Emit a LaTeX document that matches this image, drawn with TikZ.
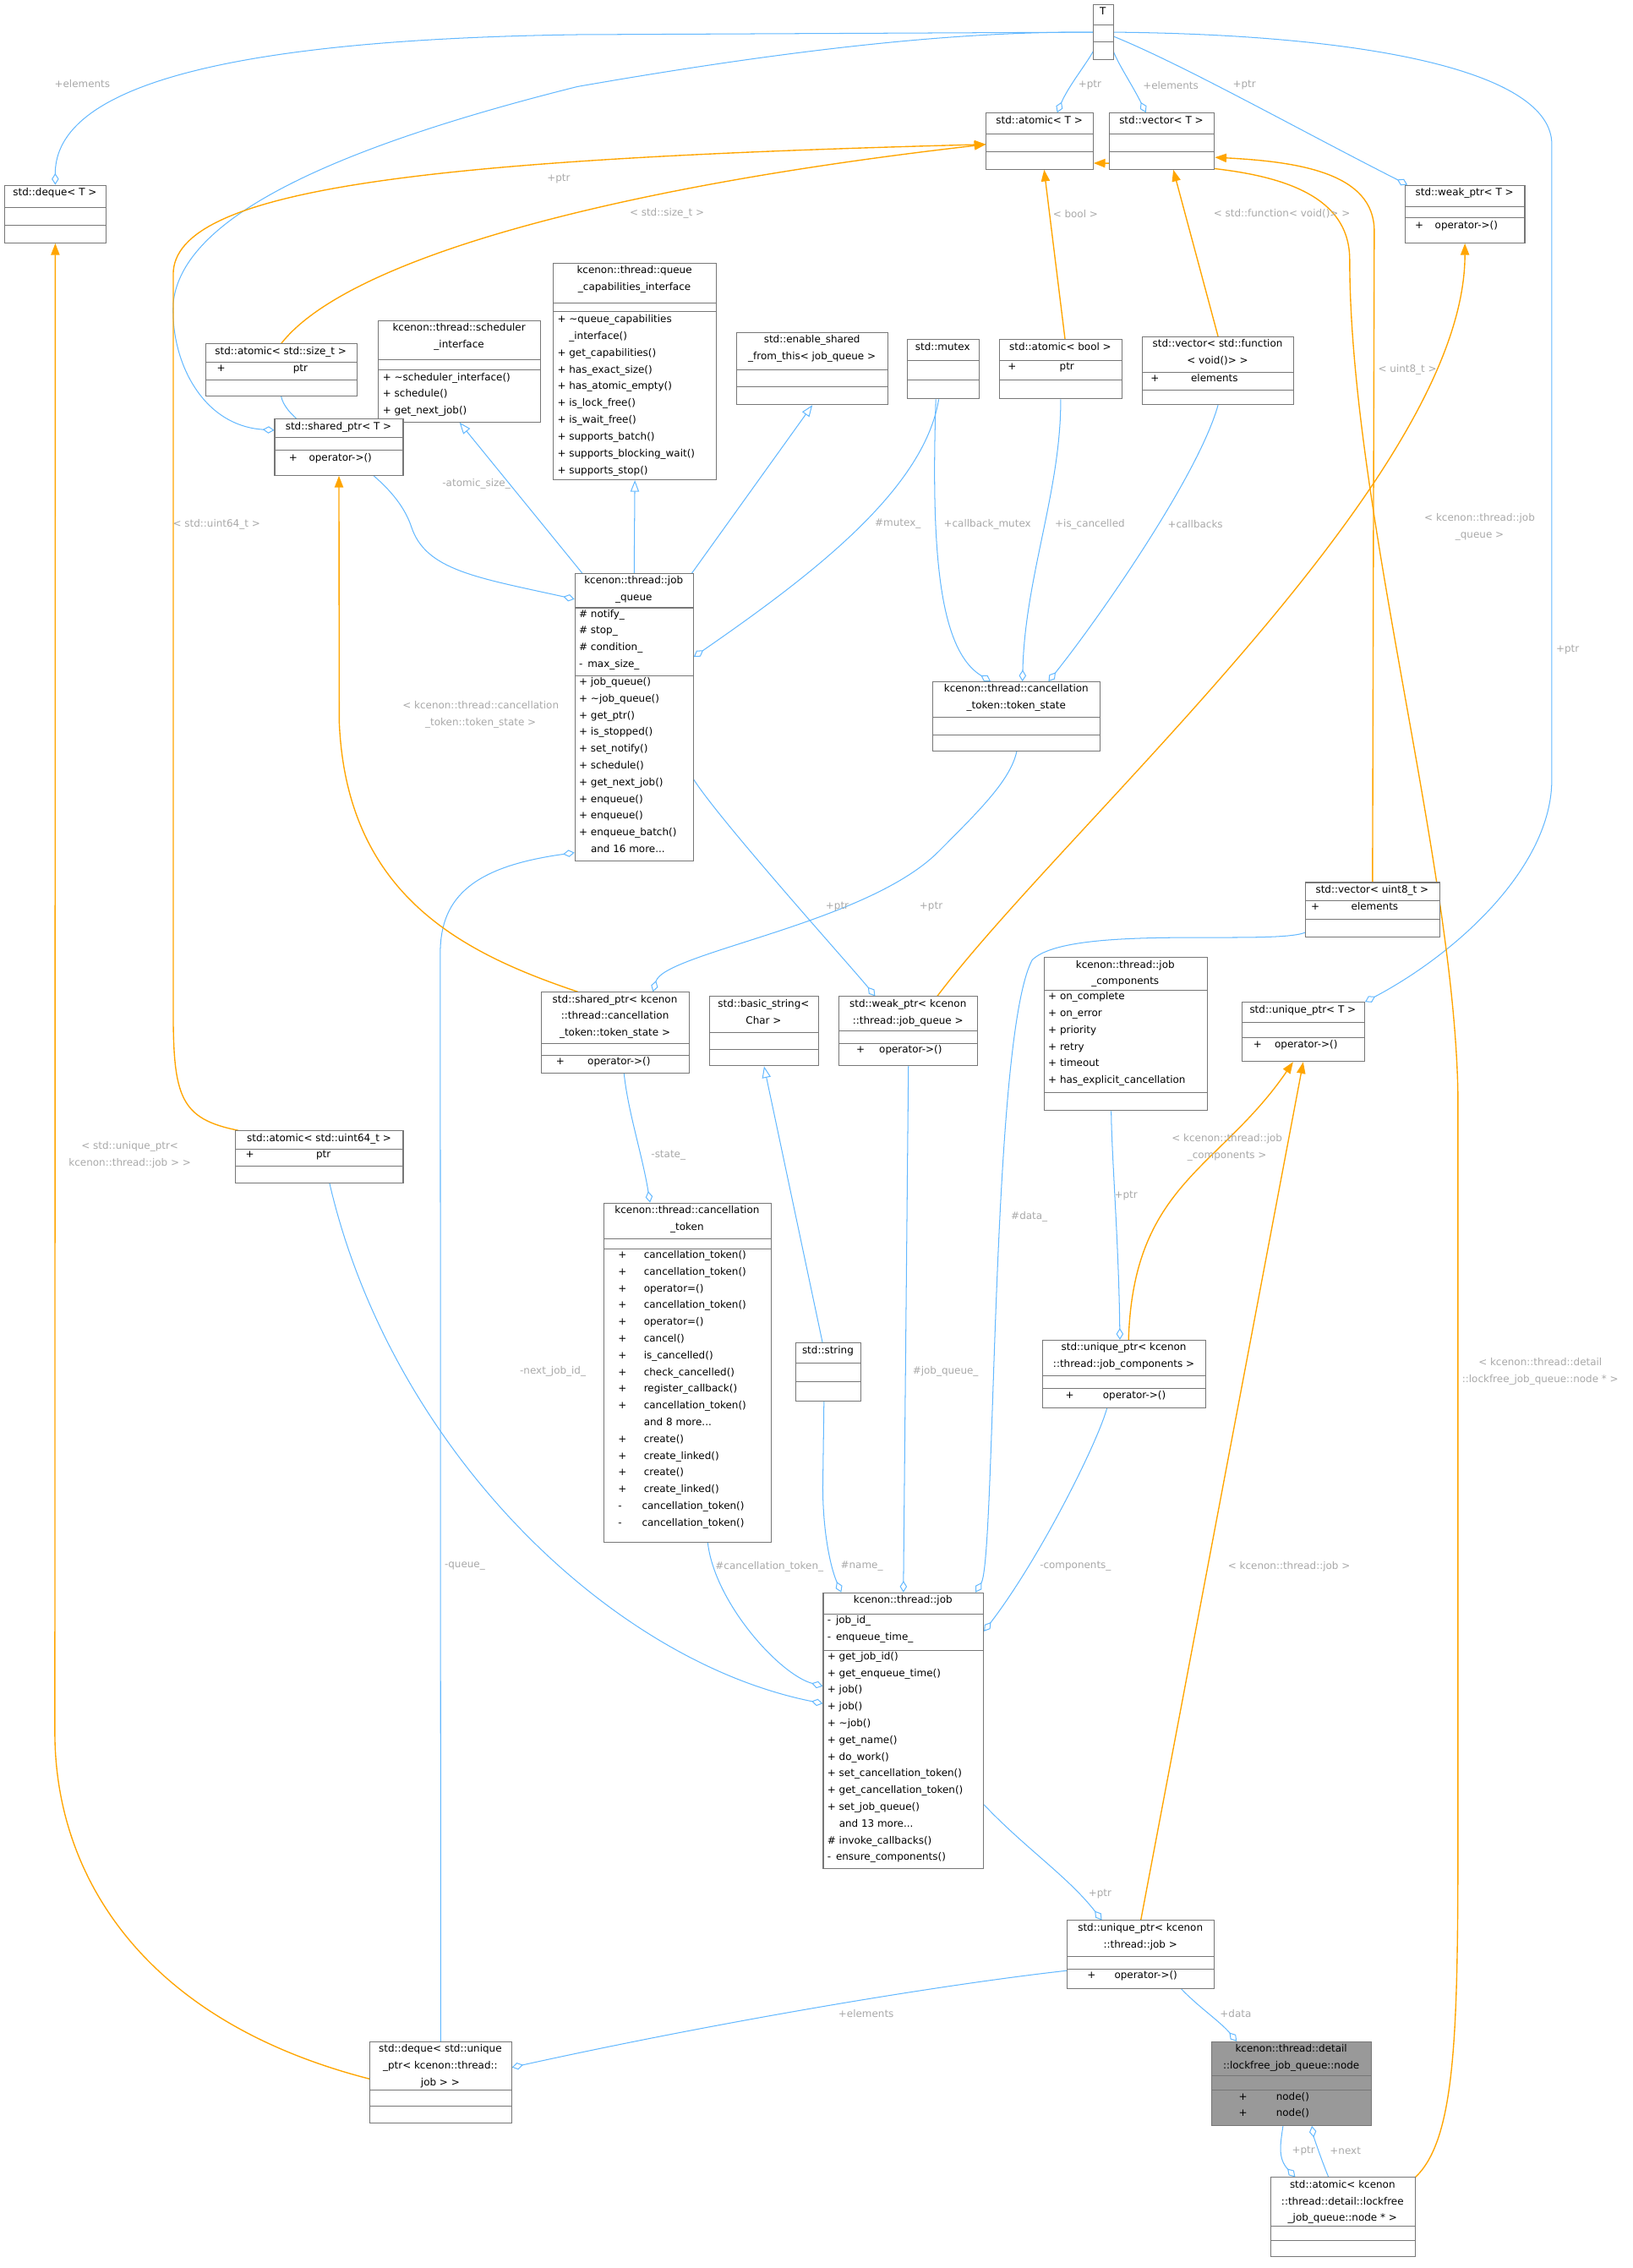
\documentclass[tikz,border=0pt]{standalone}
\usepackage{fontspec}
\setmainfont{DejaVu Sans}
\usetikzlibrary{arrows.meta,calc,backgrounds}
\definecolor{eb}{HTML}{63B8FF}
\definecolor{eo}{HTML}{FFA500}
\definecolor{lg}{HTML}{A8A8A8}
\definecolor{bd}{HTML}{777777}
\definecolor{nf}{HTML}{999999}
\newcommand\cls[8]{%
 \node[box, minimum width={#4-#2}, minimum height={#5-#3}, anchor=north west] (#1) at (#2,#3) {};
 \node[ttl, anchor=north] at ({(#2+#4)/2},#3) {#6};
 \draw[sep] (#2,#7) -- (#4,#7); \draw[sep] (#2,#8) -- (#4,#8);}
\newcommand\mem[3]{\node[mem] at (#1,#2) {#3};}
\newcommand\lbl[4]{\node[lab] (#1) at (#2,#3) {#4};}
\newcommand\pp{\hphantom{+ }}
\begin{document}
\begin{tikzpicture}[x=1pt,y=-1pt,
 fnt/.style={font=\fontsize{7}{11.6}\selectfont},
 box/.style={draw=bd, fill=white, inner sep=0pt, line width=0.6pt},
 sep/.style={draw=bd, line width=0.6pt},
 ttl/.style={fnt, align=center, inner sep=0pt, inner ysep=2pt},
 mem/.style={fnt, align=left, inner sep=0pt, anchor=north west},
 lab/.style={fnt, text=lg, align=center, inner sep=0pt},
 agg/.style={draw=eb, line width=0.6pt, {Diamond[open,length=8pt,width=5pt,line width=0.6pt]}-},
 inh/.style={draw=eb, line width=0.6pt, -{Triangle[open,length=8pt,width=6pt,line width=0.6pt]}},
 tpl/.style={draw=eo, line width=0.8pt, -{Triangle[length=8pt,width=6pt]}},
]
\useasboundingbox (0,0) rectangle (1131,1571);
% ---------- boxes
\cls{T}{757}{3}{771}{41}{T}{17}{29}
\cls{dqT}{3}{128}{73}{168}{std::deque< T >}{144}{156}
\cls{atT}{683}{78}{757}{117}{std::atomic< T >}{93}{105}
\cls{vecT}{768}{78}{841}{117}{std::vector< T >}{93}{105}
\cls{wpT}{973}{128}{1056}{168}{std::weak\_ptr< T >}{143}{151}
\mem{980}{153}{+\hspace{8pt}operator->()}
\cls{qci}{383}{182}{496}{332}{kcenon::thread::queue\\\_capabilities\_interface}{210}{216}
\mem{386}{218}{+ \textasciitilde queue\_capabilities\\\pp\_interface()\\+ get\_capabilities()\\+ has\_exact\_size()\\+ has\_atomic\_empty()\\+ is\_lock\_free()\\+ is\_wait\_free()\\+ supports\_batch()\\+ supports\_blocking\_wait()\\+ supports\_stop()}
\cls{ats}{142}{238}{247}{274}{std::atomic< std::size\_t >}{251}{263}
\mem{150}{252}{+\hspace{47pt}ptr}
\cls{sch}{262}{222}{374}{292}{kcenon::thread::scheduler\\\_interface}{249}{256}
\mem{265}{258}{+ \textasciitilde scheduler\_interface()\\+ schedule()\\+ get\_next\_job()}
\cls{esf}{510}{230}{615}{280}{std::enable\_shared\\\_from\_this< job\_queue >}{256}{268}
\cls{mtx}{628}{235}{678}{276}{std::mutex}{250}{263}
\cls{atb}{692}{235}{777}{276}{std::atomic< bool >}{250}{263}
\mem{698}{251}{+\hspace{30pt}ptr}
\cls{vfn}{791}{233}{896}{280}{std::vector< std::function\\< void()> >}{258}{270}
\mem{797}{259}{+\hspace{22pt}elements}
\cls{spT}{190}{290}{279}{329}{std::shared\_ptr< T >}{303}{312}
\mem{200}{314}{+\hspace{8pt}operator->()}
\cls{jq}{398}{397}{480}{596}{kcenon::thread::job\\\_queue}{421}{468}
\mem{401}{422}{\# notify\_\\\# stop\_\\\# condition\_\\-\, max\_size\_}
\mem{401}{469}{+ job\_queue()\\+ \textasciitilde job\_queue()\\+ get\_ptr()\\+ is\_stopped()\\+ set\_notify()\\+ schedule()\\+ get\_next\_job()\\+ enqueue()\\+ enqueue()\\+ enqueue\_batch()\\\pp and 16 more...}
\cls{ts}{646}{472}{762}{520}{kcenon::thread::cancellation\\\_token::token\_state}{497}{509}
\cls{vu8}{904}{611}{997}{649}{std::vector< uint8\_t >}{624}{637}
\mem{908}{625}{+\hspace{22pt}elements}
\cls{jc}{723}{663}{836}{769}{kcenon::thread::job\\\_components}{686}{757}
\mem{726}{687}{+ on\_complete\\+ on\_error\\+ priority\\+ retry\\+ timeout\\+ has\_explicit\_cancellation}
\cls{upT}{860}{694}{945}{735}{std::unique\_ptr< T >}{708}{719}
\mem{868}{720}{+\hspace{9pt}operator->()}
\cls{spts}{375}{687}{477}{743}{std::shared\_ptr< kcenon\\::thread::cancellation\\\_token::token\_state >}{723}{731}
\mem{385}{732}{+\hspace{16pt}operator->()}
\cls{bs}{491}{690}{567}{738}{std::basic\_string<\\Char >}{715}{727}
\cls{wpjq}{581}{690}{677}{738}{std::weak\_ptr< kcenon\\::thread::job\_queue >}{714}{723}
\mem{593}{724}{+\hspace{10pt}operator->()}
\cls{atu}{163}{783}{279}{819}{std::atomic< std::uint64\_t >}{796}{808}
\mem{170}{797}{+\hspace{43pt}ptr}
\cls{ct}{418}{833}{534}{1068}{kcenon::thread::cancellation\\\_token}{858}{865}
\mem{428}{866}{+\hspace{12pt}cancellation\_token()\\+\hspace{12pt}cancellation\_token()\\+\hspace{12pt}operator=()\\+\hspace{12pt}cancellation\_token()\\+\hspace{12pt}operator=()\\+\hspace{12pt}cancel()\\+\hspace{12pt}is\_cancelled()\\+\hspace{12pt}check\_cancelled()\\+\hspace{12pt}register\_callback()\\+\hspace{12pt}cancellation\_token()\\\hphantom{+}\hspace{12pt}and 8 more...\\+\hspace{12pt}create()\\+\hspace{12pt}create\_linked()\\+\hspace{12pt}create()\\+\hspace{12pt}create\_linked()\\-\hspace{14pt}cancellation\_token()\\-\hspace{14pt}cancellation\_token()}
\cls{str}{551}{930}{596}{970}{std::string}{944}{957}
\cls{upjc}{722}{928}{835}{975}{std::unique\_ptr< kcenon\\::thread::job\_components >}{953}{962}
\mem{738}{963}{+\hspace{20pt}operator->()}
\cls{job}{570}{1103}{681}{1294}{kcenon::thread::job}{1118}{1143}
\mem{573}{1119}{-\, job\_id\_\\-\, enqueue\_time\_}
\mem{573}{1144}{+ get\_job\_id()\\+ get\_enqueue\_time()\\+ job()\\+ job()\\+ \textasciitilde job()\\+ get\_name()\\+ do\_work()\\+ set\_cancellation\_token()\\+ get\_cancellation\_token()\\+ set\_job\_queue()\\\pp and 13 more...\\\# invoke\_callbacks()\\-\, ensure\_components()}
\cls{upj}{739}{1330}{841}{1377}{std::unique\_ptr< kcenon\\::thread::job >}{1355}{1364}
\mem{753}{1365}{+\hspace{13pt}operator->()}
\node[box, fill=nf, minimum width=111, minimum height=58, anchor=north west] (node) at (839,1414) {};
\node[ttl, anchor=north] at (894.5,1414) {kcenon::thread::detail\\::lockfree\_job\_queue::node};
\draw[sep] (839,1438) -- (950,1438); \draw[sep] (839,1448) -- (950,1448);
\mem{858}{1449}{+\hspace{20pt}node()\\+\hspace{20pt}node()}
\cls{dqj}{256}{1414}{354}{1470}{std::deque< std::unique\\\_ptr< kcenon::thread::\\job > >}{1448}{1459}
\cls{atn}{880}{1508}{980}{1563}{std::atomic< kcenon\\::thread::detail::lockfree\\\_job\_queue::node * >}{1542}{1552}
\begin{scope}[on background layer]
% ---------- aggregation
\draw[agg] (dqT.north) .. controls (38,70) and (120,28) .. (400,24) -- (T.west);
\draw[agg] ([xshift=12pt]atT.north) .. controls (740,60) and (752,45) .. ([xshift=-7pt,yshift=6pt]T.south);
\draw[agg] ([xshift=-11pt]vecT.north) .. controls (785,60) and (775,45) .. ([xshift=7pt,yshift=6pt]T.south);
\draw[agg] ([xshift=2pt]wpT.north west) .. controls (900,90) and (820,45) .. ([yshift=-3pt]T.east);
\draw[agg] ([yshift=-8pt]spT.north west) .. controls (140,295) and (118,250) .. (120,210) .. controls (125,160) and (200,110) .. (400,60) .. controls (600,25) and (700,22) .. (T.west);
\draw[agg] (upT.north east) .. controls (1010,660) and (1075,600) .. (1075,540) -- (1075,100) .. controls (1075,50) and (950,24) .. (T.east);
\draw[agg] ([yshift=-18pt]jq.north west) .. controls (330,400) and (295,395) .. (285,365) .. controls (270,320) and (200,300) .. (ats.south);
\draw[agg] ([yshift=-58pt]jq.north east) .. controls (560,400) and (640,340) .. ([xshift=-3pt]mtx.south);
\draw[agg] ([xshift=-18pt]ts.north) .. controls (650,450) and (645,380) .. ([xshift=-5pt]mtx.south);
\draw[agg] ([xshift=4pt]ts.north) .. controls (710,400) and (735,340) .. (atb.south);
\draw[agg] ([xshift=22pt]ts.north) .. controls (760,430) and (830,330) .. (vfn.south);
\draw[agg] ([xshift=26pt]spts.north) .. controls (460,660) and (600,640) .. (650,590) .. controls (680,560) and (700,540) .. (ts.south);
\draw[agg] ([xshift=-23pt]wpjq.north) .. controls (590,670) and (500,570) .. ([yshift=-143pt]jq.north east);
\draw[agg] ([yshift=6pt]jq.south west) .. controls (330,600) and (305,620) .. (305,660) -- (dqj.north);
\draw[agg] ([yshift=-77pt]job.north west) .. controls (420,1150) and (270,1000) .. ([xshift=7pt]atu.south);
\draw[agg] ([xshift=-26pt]ct.north) .. controls (445,800) and (435,770) .. ([xshift=6pt]spts.south);
\draw[agg] ([yshift=-65pt]job.north west) .. controls (540,1160) and (495,1110) .. ([xshift=14pt]ct.south);
\draw[agg] ([xshift=-43pt]job.north) .. controls (575,1085) and (570,1060) .. (570,1030) -- ([xshift=-3pt]str.south);
\draw[agg] (job.north) -- (wpjq.south);
\draw[agg] ([xshift=50pt]job.north) .. controls (690,1080) and (686,720) .. (715,665) .. controls (740,640) and (880,655) .. ([yshift=-35pt]vu8.north west);
\draw[agg] ([yshift=-27pt]job.north east) .. controls (720,1080) and (760,1000) .. ([xshift=-12pt]upjc.south);
\draw[agg] ([xshift=-3pt]upjc.north) .. controls (775,860) and (770,800) .. ([xshift=-10pt]jc.south);
\draw[agg] ([xshift=-27pt]upj.north) .. controls (740,1300) and (710,1280) .. ([yshift=-147pt]job.north east);
\draw[agg] ([yshift=-18pt]dqj.north east) .. controls (500,1400) and (650,1375) .. ([yshift=-35pt]upj.north west);
\draw[agg] ([xshift=-38pt]node.north) .. controls (845,1400) and (830,1390) .. ([xshift=28pt]upj.south);
\draw[agg] ([xshift=-33pt]atn.north) .. controls (885,1495) and (887,1485) .. ([xshift=-6pt]node.south);
\draw[agg] ([xshift=14pt]node.south) .. controls (910,1480) and (915,1495) .. ([xshift=-10pt]atn.north);
% ---------- inheritance
\draw[inh] ([xshift=-36pt]jq.north) -- (sch.south);
\draw[inh] (jq.north) -- (qci.south);
\draw[inh] ([xshift=40pt]jq.north) -- (esf.south);
\draw[inh] ([xshift=-4pt]str.north) -- (bs.south);
% ---------- template
\draw[tpl] (ats.north) .. controls (240,180) and (420,130) .. ([yshift=-22pt]atT.north west);
\draw[tpl] ([xshift=2pt]atu.north west) .. controls (125,775) and (120,760) .. (120,700) -- (120,190) .. controls (120,130) and (300,110) .. ([yshift=-22pt]atT.north west);
\draw[tpl] ([xshift=3pt]atb.north) -- ([xshift=3pt]atT.south);
\draw[tpl] (atn.north east) .. controls (1010,1480) and (1010,1400) .. (1010,1250) -- (1010,760) .. controls (1008,600) and (935,350) .. (935,180) .. controls (935,120) and (850,114) .. ([yshift=-35pt]atT.north east);
\draw[tpl] (vfn.north) -- ([xshift=8pt]vecT.south);
\draw[tpl] (vu8.north) -- (952,160) .. controls (952,120) and (900,112) .. ([yshift=-31pt]vecT.north east);
\draw[tpl] ([xshift=-26pt]spts.north) .. controls (320,660) and (240,620) .. (235,500) -- (spT.south);
\draw[tpl] ([xshift=20pt]wpjq.north) .. controls (740,570) and (1015,330) .. (wpT.south);
\draw[tpl] ([xshift=3pt]upjc.north) .. controls (785,820) and (845,810) .. ([xshift=-7pt]upT.south);
\draw[tpl] (upj.north) -- (upT.south);
\draw[tpl] ([yshift=-26pt]dqj.north west) .. controls (100,1400) and (38,1300) .. (38,1200) -- (dqT.south);
\end{scope}
% ---------- labels
\lbl{l1}{57}{58}{+elements}
\lbl{l2}{755}{59}{+ptr}
\lbl{l3}{811}{59}{+elements}
\lbl{l4}{862}{59}{+ptr}
\lbl{l5}{387}{124}{+ptr}
\lbl{l6}{1086}{450}{+ptr}
\lbl{l7}{462}{148}{< std::size\_t >}
\lbl{l8}{150}{363}{< std::uint64\_t >}
\lbl{l9}{745}{148}{< bool >}
\lbl{l10}{888}{148}{< std::function< void()> >}
\lbl{l11}{975}{256}{< uint8\_t >}
\lbl{l12}{330}{335}{-atomic\_size\_}
\lbl{l13}{622}{363}{\#mutex\_}
\lbl{l14}{684}{363}{+callback\_mutex}
\lbl{l15}{755}{363}{+is\_cancelled}
\lbl{l16}{828}{363}{+callbacks}
\lbl{l17}{1025}{365}{< kcenon::thread::job\\\_queue >}
\lbl{l18}{333}{495}{< kcenon::thread::cancellation\\\_token::token\_state >}
\lbl{l19}{580}{628}{+ptr}
\lbl{l20}{645}{628}{+ptr}
\lbl{l21}{90}{800}{< std::unique\_ptr<\\kcenon::thread::job > >}
\lbl{l22}{463}{800}{-state\_}
\lbl{l23}{850}{795}{< kcenon::thread::job\\\_components >}
\lbl{l24}{780}{828}{+ptr}
\lbl{l25}{713}{843}{\#data\_}
\lbl{l26}{383}{950}{-next\_job\_id\_}
\lbl{l27}{655}{950}{\#job\_queue\_}
\lbl{l28}{1067}{950}{< kcenon::thread::detail\\::lockfree\_job\_queue::node * >}
\lbl{l29}{322}{1085}{-queue\_}
\lbl{l30}{533}{1085}{\#cancellation\_token\_}
\lbl{l31}{597}{1085}{\#name\_}
\lbl{l32}{745}{1085}{-components\_}
\lbl{l33}{893}{1085}{< kcenon::thread::job >}
\lbl{l34}{762}{1312}{+ptr}
\lbl{l35}{600}{1395}{+elements}
\lbl{l36}{856}{1395}{+data}
\lbl{l37}{903}{1490}{+ptr}
\lbl{l38}{932}{1490}{+next}
\end{tikzpicture}
\end{document}
